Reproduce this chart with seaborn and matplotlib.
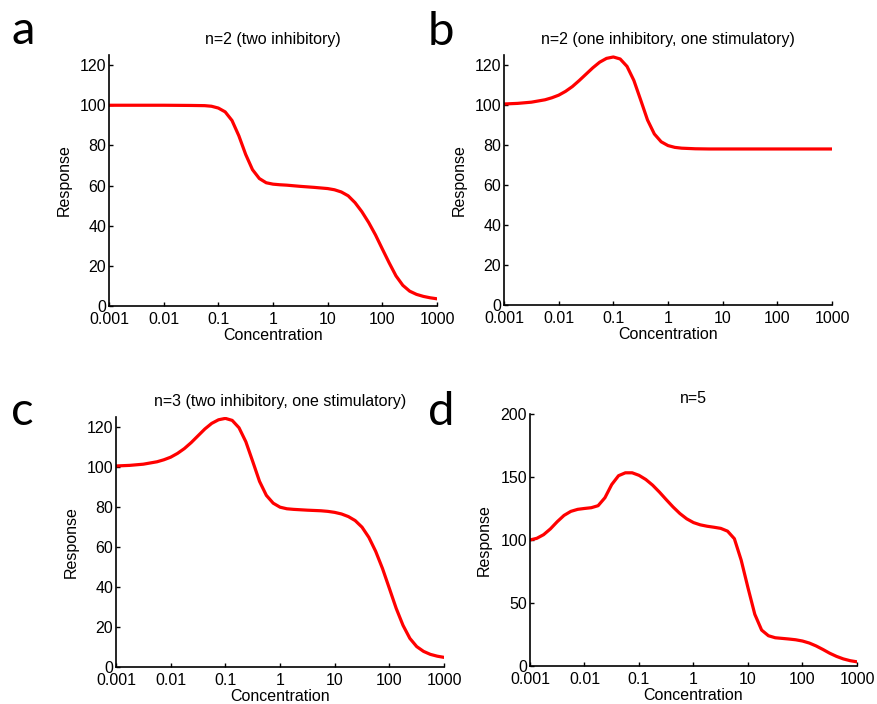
import matplotlib
matplotlib.use("Agg")
import matplotlib.pyplot as plt
import numpy as np
import pandas as pd
import seaborn as sns

# values, x given as log10(concentration)
a_logx = [-3, -2.5, -2, -1.5, -1.25, -1.125, -1, -0.875, -0.75, -0.625, -0.5, -0.375,
          -0.25, -0.125, 0, 0.125, 0.25, 0.5, 0.75, 1, 1.125, 1.25, 1.375, 1.5, 1.625,
          1.75, 1.875, 2, 2.125, 2.25, 2.375, 2.5, 2.625, 2.75, 2.875, 3]
a_resp = [100, 100, 100, 99.9, 99.8, 99.5, 98.6, 96.7, 92.4, 84.8, 75.5, 67.9,
          63.5, 61.4, 60.7, 60.4, 60.2, 59.6, 59.1, 58.5, 57.9, 56.8, 54.9, 51.5, 47,
          41.6, 35.4, 28.4, 21.5, 15, 10.3, 7.4, 5.8, 4.8, 4.1, 3.6]

b_logx = [-3, -2.75, -2.5, -2.25, -2.125, -2, -1.875, -1.75, -1.625, -1.5, -1.375,
          -1.25, -1.125, -1, -0.875, -0.75, -0.625, -0.5, -0.375, -0.25, -0.125, 0,
          0.125, 0.25, 0.5, 0.75, 1, 2, 3]
b_resp = [100.5, 100.8, 101.4, 102.6, 103.6, 104.9, 106.8, 109.2, 112.2, 115.4, 118.6,
          121.4, 123.3, 124, 123, 119.3, 112.3, 102.5, 92.5, 85.5, 81.6, 79.7,
          78.8, 78.4, 78.1, 78, 78, 78, 78]

c_logx = [-3, -2.75, -2.5, -2.25, -2.125, -2, -1.875, -1.75, -1.625, -1.5, -1.375,
          -1.25, -1.125, -1, -0.875, -0.75, -0.625, -0.5, -0.375, -0.25, -0.125, 0,
          0.125, 0.25, 0.5, 0.75, 0.875, 1, 1.125, 1.25, 1.375, 1.5, 1.625, 1.75,
          1.875, 2, 2.125, 2.25, 2.375, 2.5, 2.625, 2.75, 2.875, 3]
c_resp = [100.5, 100.8, 101.4, 102.6, 103.6, 104.9, 106.8, 109.2, 112.2, 115.6, 119,
          121.8, 123.6, 124.3, 123.3, 119.6, 112.6, 102.8, 92.8, 85.8, 81.9, 79.9,
          79.1, 78.8, 78.4, 78.1, 77.8, 77.3, 76.5, 75.2, 73.2, 69.9, 64.8, 57.8,
          49.2, 39.3, 29.3, 20.8, 14.3, 10.2, 7.8, 6.3, 5.4, 4.8]

d_logx = [-3, -2.875, -2.75, -2.625, -2.5, -2.375, -2.25, -2.125, -2, -1.875, -1.75,
          -1.625, -1.5, -1.375, -1.25, -1.125, -1, -0.875, -0.75, -0.625, -0.5, -0.375,
          -0.25, -0.125, 0, 0.125, 0.25, 0.375, 0.5, 0.625, 0.75, 0.875, 1, 1.125,
          1.25, 1.375, 1.5, 1.625, 1.75, 1.875, 2, 2.125, 2.25, 2.375, 2.5, 2.625,
          2.75, 2.875, 3]
d_resp = [100, 101.3, 104.2, 108.8, 114.5, 119.5, 122.7, 124.3, 125, 125.6, 127.2,
          133.5, 144, 151, 153.3, 153.3, 151.3, 148, 143.5, 138, 132, 126.2,
          121, 116.8, 113.8, 112, 110.9, 110.1, 109.2, 107, 101, 84, 62, 41,
          28.5, 24, 22.4, 21.9, 21.4, 20.8, 19.8, 18.2, 15.9, 13.1, 10.1, 7.6,
          5.6, 4.2, 3.3]

tick_vals = [0.001, 0.01, 0.1, 1, 10, 100, 1000]
tick_labels = ["0.001", "0.01", "0.1", "1", "10", "100", "1000"]

titles = ["n=2 (two inhibitory)", "n=2 (one inhibitory, one stimulatory)",
          "n=3 (two inhibitory, one stimulatory)", "n=5"]
letters = ["a", "b", "c", "d"]

sns.set_style("ticks", {"xtick.direction": "in", "ytick.direction": "in"})
plt.rcParams["font.family"] = ["Liberation Sans", "DejaVu Sans"]
plt.rcParams["text.color"] = "black"
plt.rcParams["axes.labelcolor"] = "black"

fig = plt.figure(figsize=(8.77, 7.04), dpi=100)

boxes = [
    [0.1243, 0.5653, 0.3740, 0.3565],
    [0.5747, 0.5668, 0.3740, 0.3551],
    [0.1323, 0.0526, 0.3740, 0.3551],
    [0.6043, 0.0540, 0.3729, 0.3580],
]
ylims = [(0, 125), (0, 125), (0, 125), (0, 200)]
yticks = [range(0, 121, 20)] * 3 + [range(0, 201, 50)]
letter_pos = [(0.013, 0.938), (0.488, 0.936), (0.013, 0.396), (0.488, 0.396)]

series = [(a_logx, a_resp), (b_logx, b_resp), (c_logx, c_resp), (d_logx, d_resp)]

for i, (lx, ry) in enumerate(series):
    ax = fig.add_axes(boxes[i])
    df = pd.DataFrame({"Concentration": np.power(10.0, lx), "Response": ry})
    sns.lineplot(data=df, x="Concentration", y="Response", ax=ax,
                 color="#ff0000", linewidth=2.3, sort=False)
    ax.set_xscale("log")
    ax.set_xlim(0.001, 1000)
    ax.set_ylim(*ylims[i])
    ax.set_xticks(tick_vals)
    ax.set_xticklabels(tick_labels)
    ax.xaxis.set_minor_locator(matplotlib.ticker.NullLocator())
    ax.set_yticks(list(yticks[i]))
    ax.tick_params(axis="both", labelsize=11.5, length=3, width=1, colors="black")
    ax.tick_params(axis="x", pad=4)
    ax.tick_params(axis="y", pad=2)
    for s in ["left", "bottom"]:
        ax.spines[s].set_linewidth(1.2)
        ax.spines[s].set_color("black")
    sns.despine(ax=ax)
    ax.set_xlabel("Concentration", fontsize=11.5, labelpad=1)
    ax.set_ylabel("Response", fontsize=11.5, labelpad=6)
    ax.set_title(titles[i], fontsize=11.5, pad=8)
    fig.text(letter_pos[i][0], letter_pos[i][1], letters[i], fontsize=34,
             family=["Lato", "DejaVu Sans"], va="baseline", ha="left", color="black")

plt.savefig("out.png", dpi=100)
plt.close()
